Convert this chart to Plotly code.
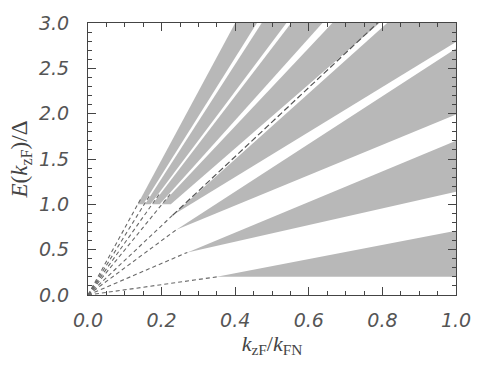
import plotly.graph_objects as go

# Bands (lowest band first).
# Each shaded band starts at a bottom segment (k from bottom_left_k to bottom_right_k at bottom_E)
# and is bounded by an upper edge towards (upper_end_k, upper_end_E)
# and a lower edge towards (lower_end_k, lower_end_E).
bottom_left_k = [0.35, 0.27, 0.24, 0.230, 0.200, 0.175, 0.155, 0.135]
bottom_right_k = [0.35, 0.27, 0.24, 0.230, 0.225, 0.195, 0.170, 0.150]
bottom_E = [0.20, 0.47, 0.72, 0.88, 1.00, 1.00, 1.00, 1.00]
upper_end_k = [1.00, 1.00, 1.00, 0.813, 0.664, 0.552, 0.472, 0.400]
upper_end_E = [0.71, 1.70, 2.72, 3.00, 3.00, 3.00, 3.00, 3.00]
lower_end_k = [1.00, 1.00, 1.00, 1.00, 0.792, 0.637, 0.539, 0.459]
lower_end_E = [0.20, 1.14, 1.99, 2.79, 3.00, 3.00, 3.00, 3.00]

# dashed lines from the origin: end points
dash_end_k = [0.35, 0.27, 0.24, 0.230, 0.225, 0.195, 0.168, 0.146]
dash_end_E = [0.20, 0.47, 0.72, 0.88, 1.12, 1.12, 1.10, 1.08]

# dark dashed line inside the upper fan
dark_k = [0.23, 0.787]
dark_E = [0.88, 3.00]

x_ticks = [0.0, 0.2, 0.4, 0.6, 0.8, 1.0]
y_ticks = [0.0, 0.5, 1.0, 1.5, 2.0, 2.5, 3.0]

fig = go.Figure()
GRAY = "rgb(184,184,184)"
EXT = 1.4  # extend edges past the frame; the plot area clips them

for i in range(len(bottom_E)):
    bl = (bottom_left_k[i], bottom_E[i])
    br = (bottom_right_k[i], bottom_E[i])
    ue = (upper_end_k[i], upper_end_E[i])
    le = (lower_end_k[i], lower_end_E[i])
    ue2 = (bl[0] + EXT * (ue[0] - bl[0]), bl[1] + EXT * (ue[1] - bl[1]))
    le2 = (br[0] + EXT * (le[0] - br[0]), br[1] + EXT * (le[1] - br[1]))
    xs = [bl[0], ue2[0], le2[0], br[0], bl[0]]
    ys = [bl[1], ue2[1], le2[1], br[1], bl[1]]
    fig.add_trace(go.Scatter(x=xs, y=ys, mode="lines", fill="toself",
                             fillcolor=GRAY, line=dict(width=0),
                             hoverinfo="skip", showlegend=False))

for k, e in zip(dash_end_k, dash_end_E):
    fig.add_trace(go.Scatter(x=[0, k], y=[0, e], mode="lines",
                             line=dict(color="rgb(105,105,105)", width=1.1, dash="4px,3px"),
                             hoverinfo="skip", showlegend=False))

fig.add_trace(go.Scatter(x=dark_k, y=dark_E, mode="lines",
                         line=dict(color="rgb(85,85,85)", width=1.2, dash="6px,3px"),
                         hoverinfo="skip", showlegend=False))

tickfont = dict(family="DejaVu Sans", size=19, color="#555", style="italic", weight=300)
axis_common = dict(showline=True, linecolor="#444", linewidth=1, mirror="allticks",
                   ticks="inside", tickcolor="#444", ticklen=8, showgrid=False, zeroline=False,
                   tickfont=tickfont)
fig.update_xaxes(range=[0, 1.0], tickvals=x_ticks, ticktext=[f"{v:.1f}" for v in x_ticks],
                 ticklabelstandoff=8,
                 minor=dict(dtick=0.05, ticks="inside", ticklen=4, tickcolor="#444"),
                 title=dict(text="<i>k</i><sub>zF</sub>/<i>k</i><sub>FN</sub>",
                            font=dict(family="Liberation Serif", size=22, color="#444"), standoff=0),
                 **axis_common)
fig.update_yaxes(range=[0, 3.0], tickvals=y_ticks, ticktext=[f"{v:.1f}" for v in y_ticks],
                 ticklabelstandoff=14,
                 minor=dict(dtick=0.1, ticks="inside", ticklen=4, tickcolor="#444"),
                 title=dict(text="<i>E</i>(<i>k</i><sub>zF</sub>)/Δ",
                            font=dict(family="Liberation Serif", size=23, color="#444"), standoff=4),
                 **axis_common)
fig.update_layout(width=483, height=365, margin=dict(l=88, r=20, t=13, b=70),
                  plot_bgcolor="white", paper_bgcolor="white")
fig.write_html("out.html")
